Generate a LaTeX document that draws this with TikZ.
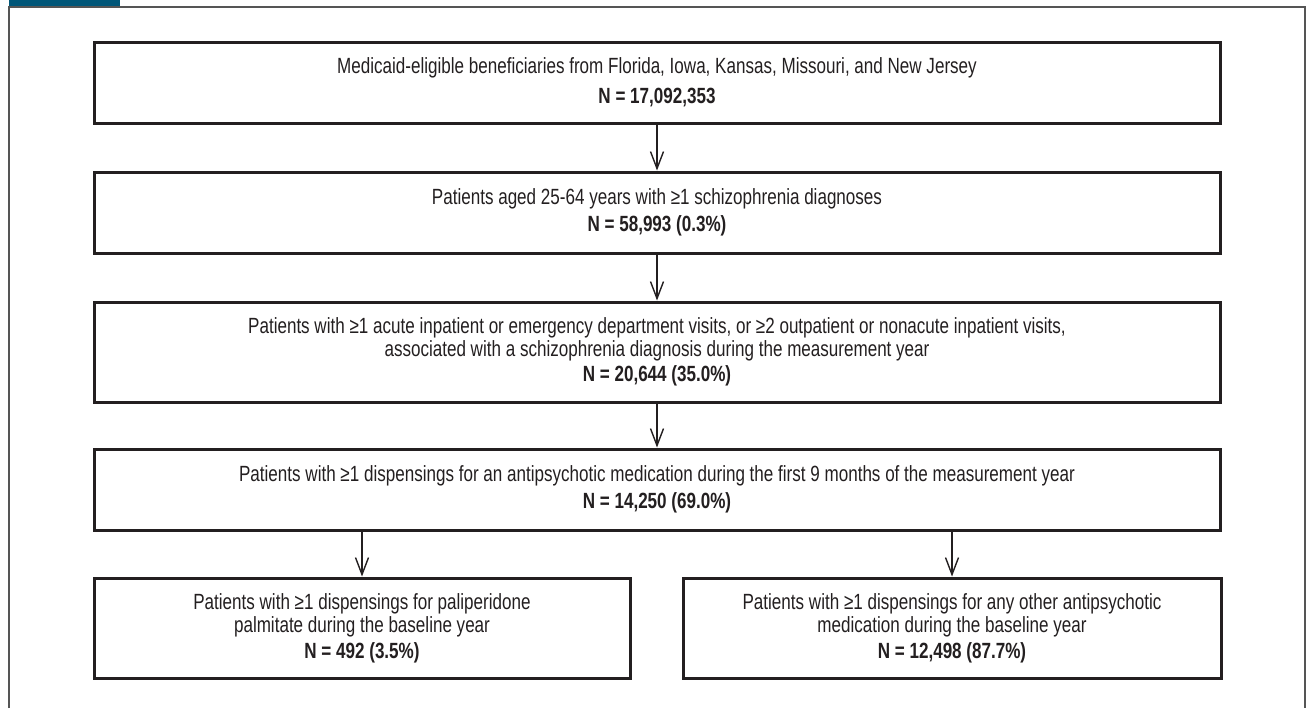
\documentclass[tikz,border=0pt]{standalone}
\usepackage{fontspec}
\setmainfont{Liberation Sans}[FakeStretch=0.775]
\usetikzlibrary{arrows.meta}
\definecolor{figteal}{RGB}{0,86,120}
\definecolor{inkgray}{RGB}{35,31,32}
\definecolor{framegray}{RGB}{85,85,85}
\begin{document}
\begin{tikzpicture}[x=0.5pt, y=-0.5pt,
    stagebox/.style={draw=inkgray, line width=1.5pt, text=inkgray, align=center, inner sep=0pt,
      font=\fontsize{11}{11.5}\selectfont},
    flow/.style={draw=inkgray, line width=0.7pt, -{Straight Barb[length=8.5pt, width=6.5pt]}}]
    \useasboundingbox (0, 0) rectangle (1310, 708);
    \fill[figteal] (9, 0) rectangle (120, 7);
    \draw[framegray, line width=0.75pt] (9, 708)--(9, 7)--(1305, 7)--(1305, 708);
    \node[stagebox, minimum width=563pt, minimum height=40.5pt] (medicaid) at (657, 82.5)
      {Medicaid-eligible beneficiaries from Florida, Iowa, Kansas, Missouri, and New Jersey\\[3.5pt]\textbf{N = 17,092,353}};
    \node[stagebox, minimum width=563pt, minimum height=40.5pt] (aged) at (657, 212.5)
      {Patients aged 25-64 years with ≥1 schizophrenia diagnoses\\[2pt]\textbf{N = 58,993 (0.3\%)}};
    \node[stagebox, minimum width=563pt, minimum height=50pt] (visits) at (657, 352)
      {Patients with ≥1 acute inpatient or emergency department visits, or ≥2 outpatient or nonacute inpatient visits,\\
       associated with a schizophrenia diagnosis during the measurement year\\[1pt]\textbf{N = 20,644 (35.0\%)}};
    \node[stagebox, minimum width=563pt, minimum height=40.5pt] (dispense) at (657, 489.5)
      {Patients with ≥1 dispensings for an antipsychotic medication during the first 9 months of the measurement year\\[2pt]\textbf{N = 14,250 (69.0\%)}};
    \node[stagebox, minimum width=268pt, minimum height=50pt] (palmitate) at (362, 628)
      {Patients with ≥1 dispensings for paliperidone\\palmitate during the baseline year\\[1.5pt]\textbf{N = 492 (3.5\%)}};
    \node[stagebox, minimum width=269pt, minimum height=50pt] (other) at (952, 628)
      {Patients with ≥1 dispensings for any other antipsychotic\\medication during the baseline year\\[1.5pt]\textbf{N = 12,498 (87.7\%)}};
    \draw[flow] (medicaid)--(aged);
    \draw[flow] (aged)--(visits);
    \draw[flow] (visits)--(dispense);
    \draw[flow] (dispense.south -| palmitate.north)--(palmitate.north);
    \draw[flow] (dispense.south -| other.north)--(other.north);
  \end{tikzpicture}
\end{document}
